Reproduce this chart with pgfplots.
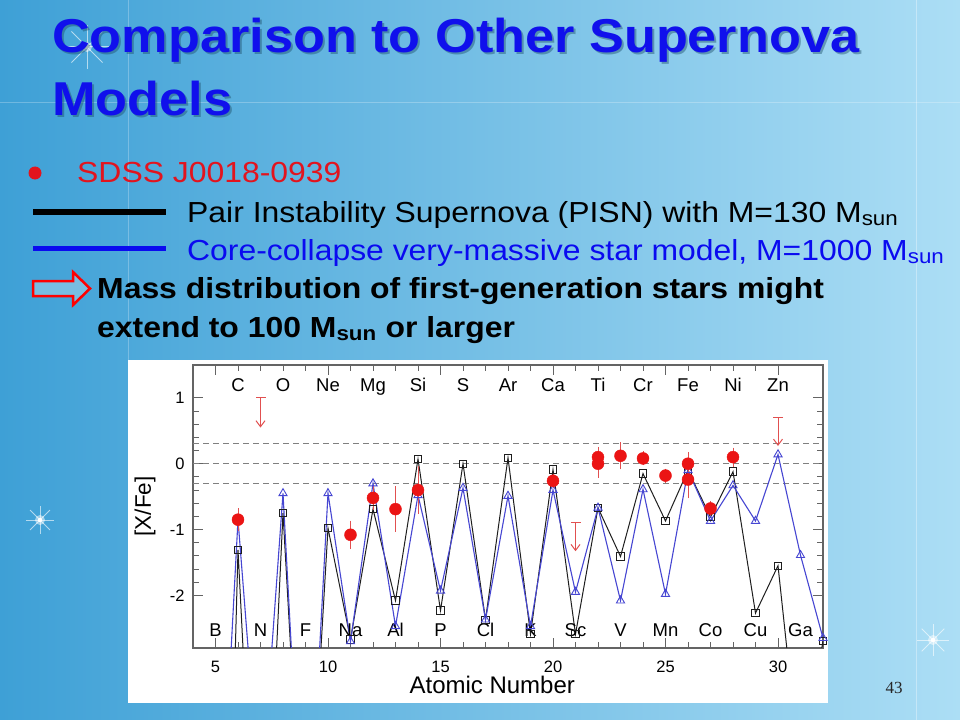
\documentclass[border=0pt]{standalone}
\usepackage{pgfplots}
\pgfplotsset{compat=1.18}
\usepackage{fontspec}
\setmainfont{Liberation Sans}
\newfontfamily\pagefont{Liberation Serif}
\usetikzlibrary{arrows.meta}

\definecolor{slideL}{RGB}{62,160,214}
\definecolor{slideR}{RGB}{172,222,245}
\definecolor{titleblue}{RGB}{16,16,236}
\definecolor{txtred}{RGB}{226,20,30}
\definecolor{txtblue}{RGB}{10,10,240}
\definecolor{pisn}{RGB}{30,30,30}
\definecolor{vms}{RGB}{70,70,210}
\definecolor{ptred}{RGB}{235,20,20}
\definecolor{errred}{RGB}{225,80,80}
\definecolor{framegray}{RGB}{100,100,100}

% SDSS J0018-0939 abundances: Z, [X/Fe], error
\pgfplotstableread{
z   v      e
6   -0.85  0.10
11  -1.08  0.14
12  -0.52  0.10
13  -0.69  0.27
14  -0.40  0.29
20  -0.26  0.04
22   0.10  0.08
22   0.00  0.14
23   0.12  0.13
24   0.08  0.03
25  -0.18  0.03
26   0.00  0.10
26  -0.24  0.21
27  -0.68  0.04
28   0.10  0.07
}\obsdata

% PISN 130 Msun
\pgfplotstableread{
z   v
5   -14
6   -1.31
7   -8
8   -0.75
9   -6.8
10  -0.98
11  -2.67
12  -0.69
13  -2.08
14   0.07
15  -2.23
16   0.00
17  -2.37
18   0.09
19  -2.59
20  -0.09
21  -2.59
22  -0.67
23  -1.41
24  -0.15
25  -0.87
26  -0.10
27  -0.81
28  -0.12
29  -2.27
30  -1.55
31  -4.75
32  -2.69
}\pisndata

% core-collapse 1000 Msun
\pgfplotstableread{
z   v
5   -7.3
6   -0.85
7   -5.2
8   -0.45
9   -6.8
10  -0.45
11  -2.70
12  -0.30
13  -2.47
14  -0.48
15  -1.93
16  -0.37
17  -2.37
18  -0.49
19  -2.47
20  -0.40
21  -1.95
22  -0.67
23  -2.08
24  -0.39
25  -1.98
26  -0.10
27  -0.87
28  -0.33
29  -0.87
30   0.14
31  -1.39
32  -2.65
}\vmsdata

\newcommand\slidetext[1]{\scalebox{1.1}[1]{\fontsize{29bp}{32bp}\selectfont #1}}

\begin{document}
\begin{tikzpicture}[x=1bp,y=1bp]
\useasboundingbox (0,0) rectangle (960,-720);
\shade[left color=slideL, right color=slideR] (0,0) rectangle (960,-720);
\draw[white, opacity=0.25, line width=1bp] (128,0) -- (128,-360);
\draw[white, opacity=0.25, line width=1bp] (0,-103) -- (960,-103);
\draw[white, opacity=0.35, line width=1bp] (916,0) -- (916,-720);

% sparkles
\foreach \cx/\cy/\r in {87/-47/22, 933/-640/16, 40/-520/14} {
  \foreach \a in {0,45,...,315}
    \draw[white, opacity=0.6, line width=1bp] (\cx,\cy) -- ++(\a:\r);
  \fill[white, opacity=0.5] (\cx,\cy) circle (5);
  \fill[white] (\cx,\cy) circle (2.2);
}

% title with soft shadow
\node[anchor=base west, inner sep=0, text=black!50!slideL, opacity=0.45]
  at (54,-55) {\scalebox{1.1}[1]{\fontsize{47.5bp}{50bp}\selectfont\bfseries Comparison to Other Supernova}};
\node[anchor=base west, inner sep=0, text=black!50!slideL, opacity=0.45]
  at (54,-118) {\scalebox{1.1}[1]{\fontsize{47.5bp}{50bp}\selectfont\bfseries Models}};
\node[anchor=base west, inner sep=0, text=titleblue]
  at (52,-53) {\scalebox{1.1}[1]{\fontsize{47.5bp}{50bp}\selectfont\bfseries Comparison to Other Supernova}};
\node[anchor=base west, inner sep=0, text=titleblue]
  at (52,-116) {\scalebox{1.1}[1]{\fontsize{47.5bp}{50bp}\selectfont\bfseries Models}};

% bullets
\fill[txtred] (35,-173) circle (6.5);
\node[anchor=base west, inner sep=0, text=txtred] at (77,-183) {\slidetext{SDSS J0018-0939}};
\draw[black, line width=6bp] (33,-212) -- (166,-212);
\node[anchor=base west, inner sep=0] at (187,-222) {\slidetext{Pair Instability Supernova (PISN) with M=130 M\textsubscript{sun}}};
\draw[txtblue, line width=5bp] (33,-248) -- (166,-248);
\node[anchor=base west, inner sep=0, text=txtblue] at (187,-260) {\slidetext{Core-collapse very-massive star model, M=1000 M\textsubscript{sun}}};
\filldraw[draw=red, fill=slideL!70!white, line width=2.5bp]
  (33,-281) -- (73,-281) -- (73,-272) -- (90,-288.5) -- (73,-305) -- (73,-296) -- (33,-296) -- cycle;
\node[anchor=base west, inner sep=0] at (97,-298) {\slidetext{\bfseries Mass distribution of first-generation stars might}};
\node[anchor=base west, inner sep=0] at (97,-337) {\slidetext{\bfseries extend to 100 M\textsubscript{sun} or larger}};

% chart panel
\fill[white] (128,-360) rectangle (828,-703);
\coordinate (axpos) at (193,-648);

\begin{axis}[
    at={(axpos)}, anchor=south west,
    scale only axis, width=630bp, height=283bp,
    xmin=4, xmax=32, ymin=-2.8, ymax=1.5,
    xtick={5,10,...,30}, minor x tick num=4,
    ytick={-2,-1,0,1}, minor y tick num=4,
    tick align=inside,
    major tick length=10bp, minor tick length=6bp,
    tick style={color=framegray, line width=0.9bp},
    axis line style={color=framegray, line width=1.2bp},
    /pgf/number format/assume math mode=true,
    ticklabel style={font=\fontsize{16.5bp}{18bp}\selectfont},
    xticklabel style={anchor=base, inner sep=0, yshift=-25bp},
    yticklabel style={xshift=-5bp},
    xlabel={Atomic Number}, ylabel={[X/Fe]},
    label style={font=\fontsize{24bp}{26bp}\selectfont},
    xlabel style={at={(axis description cs:0.475,-0.131)}, anchor=center},
    ylabel style={at={(axis description cs:-0.076,0.5)}, anchor=center, font=\fontsize{22.5bp}{24bp}\selectfont},
  ]

  \addplot[gray, line width=1bp, dash pattern=on 6bp off 4bp] coordinates {(4,0.3) (32,0.3)};
  \addplot[gray, line width=1bp, dash pattern=on 6bp off 4bp] coordinates {(4,0) (32,0)};
  \addplot[gray, line width=1bp, dash pattern=on 6bp off 4bp] coordinates {(4,-0.3) (32,-0.3)};

  \addplot[pisn, line width=1bp, mark=square, mark size=3.7bp, mark options={line width=0.9bp}]
    table[x=z, y=v] {\pisndata};
  \addplot[vms, line width=1.1bp, mark=triangle, mark size=4.7bp, mark options={line width=0.9bp}]
    table[x=z, y=v] {\vmsdata};

  % upper limits
  \addplot[errred, line width=1bp, mark=-, mark size=5bp, mark indices={1}, -{Straight Barb[length=6bp, width=9bp]}]
    coordinates {(7,1.0) (7,0.55)};
  \addplot[errred, line width=1bp, mark=-, mark size=5bp, mark indices={1}, -{Straight Barb[length=6bp, width=9bp]}]
    coordinates {(21,-0.89) (21,-1.33)};
  \addplot[errred, line width=1bp, mark=-, mark size=5bp, mark indices={1}, -{Straight Barb[length=6bp, width=9bp]}]
    coordinates {(30,0.70) (30,0.27)};

  \addplot[only marks, mark=*, mark size=6bp, color=ptred,
    error bars/.cd, y dir=both, y explicit,
    error bar style={color=errred, line width=1bp},
    error mark options={color=errred, mark size=5bp, line width=1bp}]
    table[x=z, y=v, y error=e] {\obsdata};

  \foreach \el/\zz in {C/6, O/8, Ne/10, Mg/12, Si/14, S/16, Ar/18, Ca/20, Ti/22, Cr/24, Fe/26, Ni/28, Zn/30} {
    \edef\tmp{\noexpand\node[anchor=base, inner sep=0, font=\noexpand\fontsize{18.5bp}{20bp}\noexpand\selectfont] at (axis cs:\zz,1.09) {\el};}
    \tmp
  }
  \foreach \el/\zz in {B/5, N/7, F/9, Na/11, Al/13, P/15, Cl/17, K/19, Sc/21, V/23, Mn/25, Co/27, Cu/29, Ga/31} {
    \edef\tmp{\noexpand\node[anchor=base, inner sep=0, font=\noexpand\fontsize{18.5bp}{20bp}\noexpand\selectfont] at (axis cs:\zz,-2.62) {\el};}
    \tmp
  }
\end{axis}

\node[anchor=base, inner sep=0, text=black!85] at (894,-693) {\pagefont\fontsize{17bp}{18bp}\selectfont 43};
\end{tikzpicture}
\end{document}
